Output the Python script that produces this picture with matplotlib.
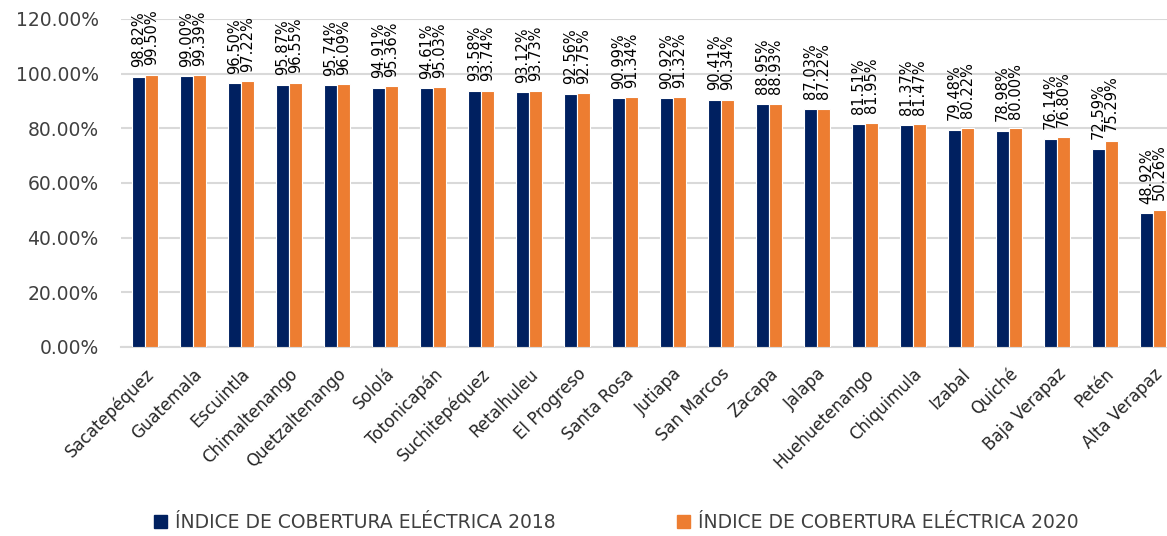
import numpy as np
import matplotlib.pyplot as plt
from matplotlib.ticker import PercentFormatter
from matplotlib.patches import Patch

plt.rcParams['font.family'] = ['DejaVu Sans']

# datos
departamentos = ['Sacatepéquez', 'Guatemala', 'Escuintla', 'Chimaltenango', 'Quetzaltenango',
                 'Sololá', 'Totonicapán', 'Suchitepéquez', 'Retalhuleu', 'El Progreso',
                 'Santa Rosa', 'Jutiapa', 'San Marcos', 'Zacapa', 'Jalapa', 'Huehuetenango',
                 'Chiquimula', 'Izabal', 'Quiché', 'Baja Verapaz', 'Petén', 'Alta Verapaz']
cob_2018 = [98.82, 99.00, 96.50, 95.87, 95.74, 94.91, 94.61, 93.58, 93.12, 92.56, 90.99,
            90.92, 90.41, 88.95, 87.03, 81.51, 81.37, 79.48, 78.98, 76.14, 72.59, 48.92]
cob_2020 = [99.50, 99.39, 97.22, 96.55, 96.09, 95.36, 95.03, 93.74, 93.73, 92.75, 91.34,
            91.32, 90.34, 88.93, 87.22, 81.95, 81.47, 80.22, 80.00, 76.80, 75.29, 50.26]

serie_2018 = 'ÍNDICE DE COBERTURA ELÉCTRICA 2018'
serie_2020 = 'ÍNDICE DE COBERTURA ELÉCTRICA 2020'
azul = '#002060'
naranja = '#ed7d31'

fig = plt.figure(figsize=(11.67, 5.36), dpi=100)
ax = fig.add_axes([121 / 1167, 1 - 347 / 536, 1046 / 1167, (347 - 19) / 536])

x = np.arange(len(departamentos))
w = 0.27
ax.bar(x - w / 2, cob_2018, w, color=azul, edgecolor='white', linewidth=0.8, zorder=3)
ax.bar(x + w / 2, cob_2020, w, color=naranja, edgecolor='white', linewidth=0.8, zorder=3)

# etiquetas de datos
for i in range(len(x)):
    ax.annotate(f'{cob_2018[i]:.2f}%', (x[i] - w / 2, cob_2018[i]), xytext=(0, 7),
                textcoords='offset points', rotation=90, ha='center', va='bottom',
                fontsize=10.5, color='black')
    ax.annotate(f'{cob_2020[i]:.2f}%', (x[i] + w / 2, cob_2020[i]), xytext=(0, 7),
                textcoords='offset points', rotation=90, ha='center', va='bottom',
                fontsize=10.5, color='black')

ax.set_ylim(0, 120)
ax.set_yticks(np.arange(0, 121, 20))
ax.yaxis.set_major_formatter(PercentFormatter(decimals=2))
ax.set_xlim(-0.5, -0.5 + 1046 / 48)
ax.set_xticks(x)
ax.set_xticklabels(departamentos, rotation=45, ha='right', rotation_mode='anchor',
                   fontsize=12, color='#262626')
ax.tick_params(axis='y', labelsize=13.5, colors='#404040', length=0, pad=16)
ax.tick_params(axis='x', length=0, pad=13)
ax.grid(axis='y', color='#d9d9d9', linewidth=1.5, zorder=0)
for s in ['top', 'right', 'left']:
    ax.spines[s].set_visible(False)
ax.spines['bottom'].set_color('#d9d9d9')
ax.spines['bottom'].set_linewidth(1.5)

handles = [Patch(color=azul), Patch(color=naranja)]
fig.legend(handles, [serie_2018, serie_2020], loc='center', bbox_to_anchor=(0.528, 0.025),
           ncol=2, frameon=False, fontsize=13.5, handlelength=0.7, handleheight=0.7,
           handletextpad=0.4, columnspacing=6.5, labelcolor='#404040')

fig.savefig('out.png', dpi=100)
